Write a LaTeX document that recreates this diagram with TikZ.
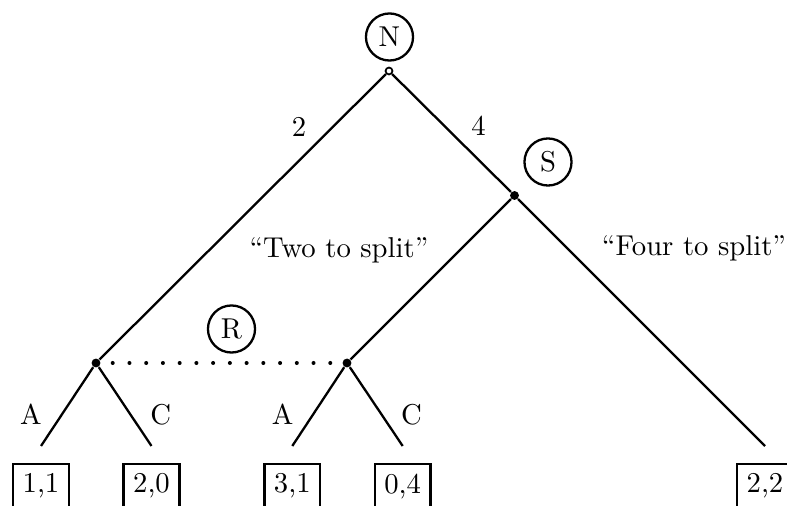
\documentclass[tikz,border=0pt]{standalone}
\usepackage{tikz}
\usetikzlibrary{positioning}

\begin{document}
\begin{tikzpicture}[
x=0.3484pt, y=-0.3484pt,
node distance=5.9pt,
player/.style={circle, draw, line width=0.8pt, minimum size=16.4pt, inner sep=1pt},
decision/.style={circle, fill, inner sep=0pt, minimum size=3.1pt},
chance/.style={circle, draw, fill=white, line width=0.6pt, inner sep=0pt, minimum size=2.4pt},
payoff/.style={draw, line width=0.8pt},
branch/.style={line width=0.8pt},
info/.style={line width=1.4pt, dash pattern=on 0pt off 5.83pt, line cap=round}
]
\useasboundingbox (0,0) rectangle (787,506);

% chance move and decision nodes
\node[chance] (root) at (389,71) {};
\node[decision] (s) at (514.5,195.5) {};
\node[decision] (r2) at (96,363) {};
\node[decision] (r4) at (347,363) {};

% players
\node[player] (pn) at (389.5,37) {N};
\node[player] (ps) at (548,162) {S};
\node[player] (pr) at (231.5,329) {R};

% leaves
\coordinate (l1) at (41,446);
\coordinate (l2) at (151.5,446);
\coordinate (l3) at (292.3,446);
\coordinate (l4) at (402.7,446);
\coordinate (l5) at (765,446);

\node[payoff, below=of l1] (o1) {1,1};
\node[payoff, below=of l2] (o2) {2,0};
\node[payoff, below=of l3] (o3) {3,1};
\node[payoff, below=of l4] (o4) {0,4};
\node[payoff, below=of l5] (o5) {2,2};

% messages
\node (two) at (339,250) {``Two to split''};
\node (four) at (694,248) {``Four to split''};

\draw[branch] (root) -- node[pos=0.185, left=5.6pt] {2} (r2);
\draw[branch] (root) -- node[pos=0.435, right=5.9pt] {4} (s);
\draw[branch] (s) -- (r4);
\draw[branch] (s) -- (l5);
\draw[branch] (r2) -- node[pos=0.6, left=3.3pt] {A} (l1);
\draw[branch] (r2) -- node[pos=0.6, right=3.2pt] {C} (l2);
\draw[branch] (r4) -- node[pos=0.6, left=3.1pt] {A} (l3);
\draw[branch] (r4) -- node[pos=0.6, right=3.1pt] {C} (l4);
\draw[info] (r2.center) -- (r4.center);
\end{tikzpicture}
\end{document}
